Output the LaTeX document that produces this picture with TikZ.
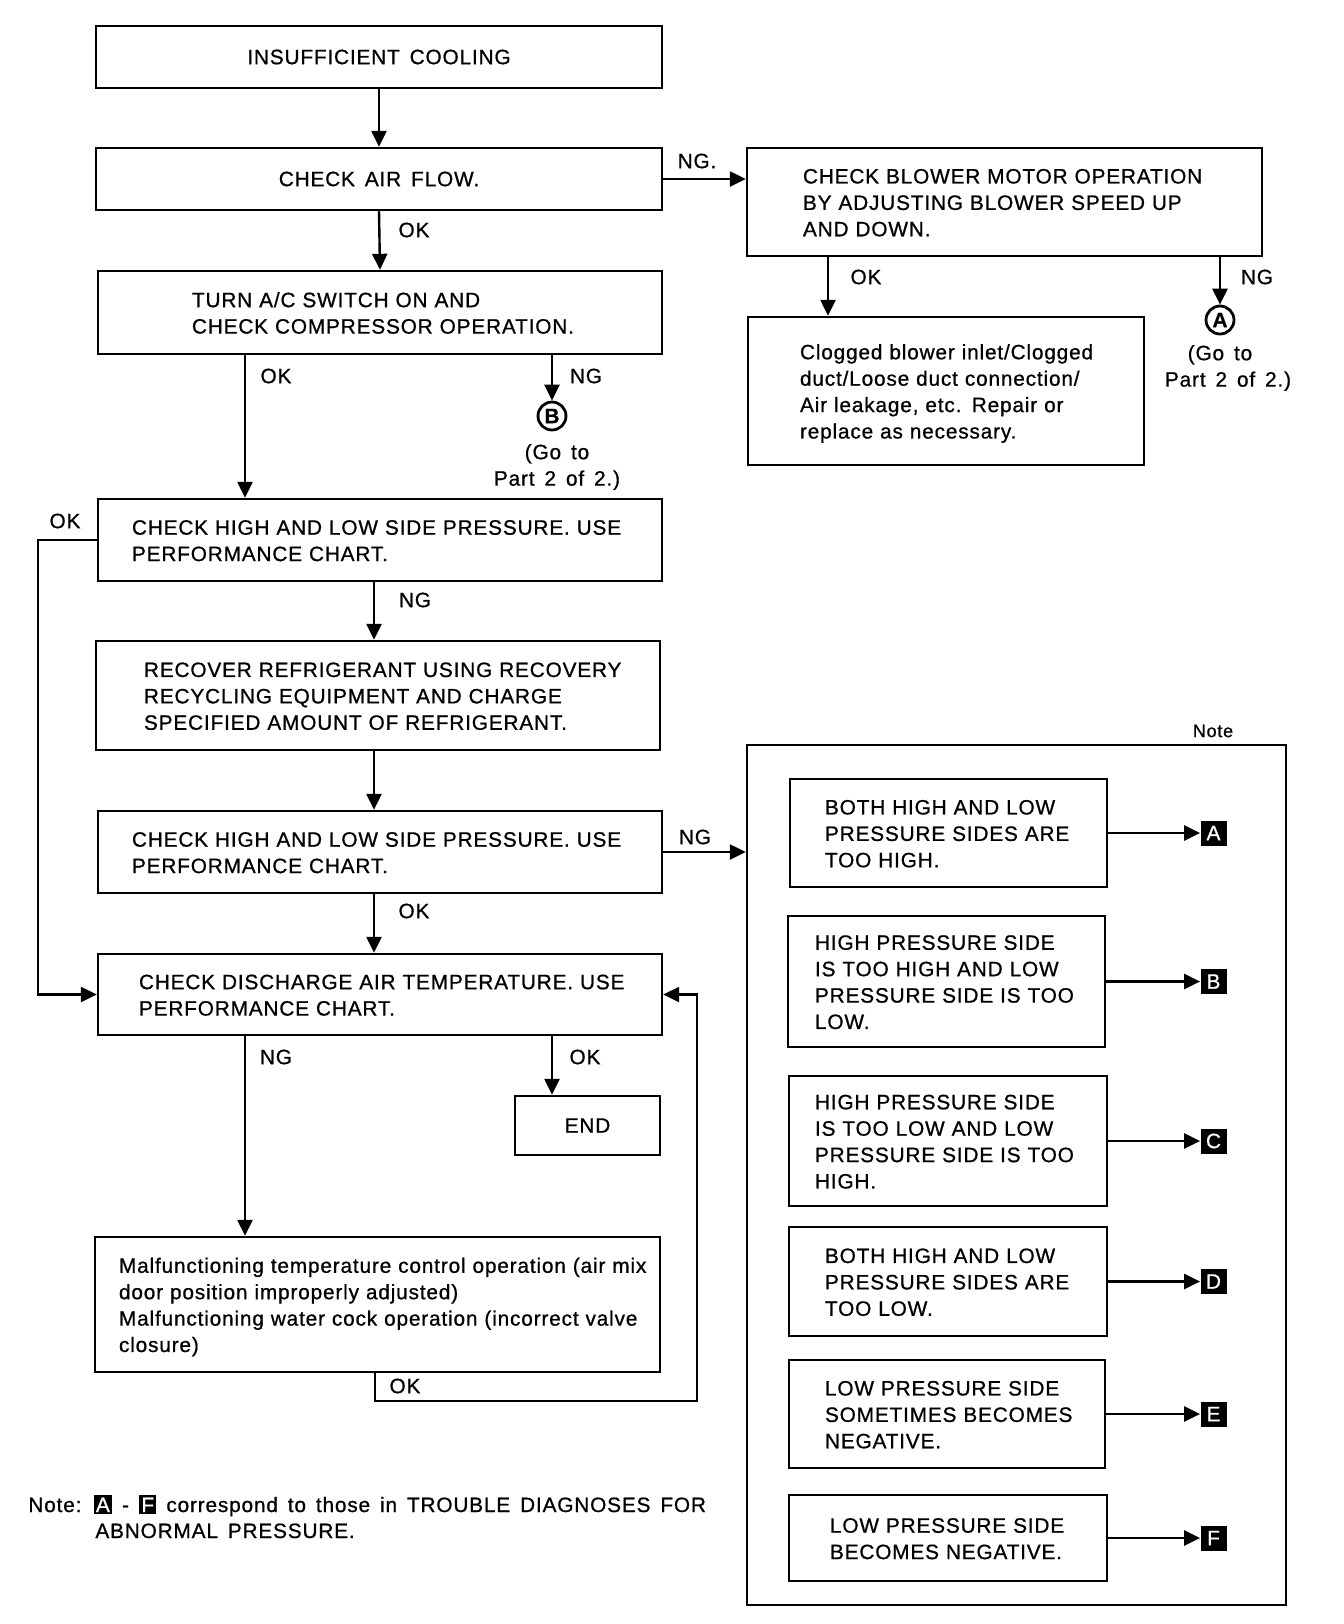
\documentclass[tikz,border=0pt]{standalone}
\usepackage{fontspec}
\setmainfont{Liberation Sans}[WordSpace=1.5, LetterSpace=4, FakeBold=0.8]
\usetikzlibrary{arrows.meta, positioning}
\newcommand\flowfont{\fontsize{10.4}{13.2}\selectfont}
% box text: lines are set as printed, never re-broken
\newcommand\flowlines[1]{\raisebox{-1.3pt}[\height][\depth]{\begin{tabular}{@{}l@{}}#1\end{tabular}}}
\newcommand\sqlet[1]{{\setlength\fboxsep{1.2pt}\colorbox{black}{\textcolor{white}{#1}}}}
\tikzset{
	flowbox/.style={draw, line width=1.2pt, align=left, font=\flowfont, inner ysep=0pt},
	flowarr/.style={-{Triangle[length=8pt, width=7.5pt]}, line width=1.2pt},
	flowlbl/.style={font=\flowfont, inner sep=0pt},
	gotoref/.style={circle, draw, line width=1.4pt, minimum size=14pt, inner sep=0pt, font=\flowfont\bfseries},
	letterbox/.style={fill=black, text=white, minimum width=13pt, minimum height=12.5pt, inner sep=0pt, font=\flowfont},
}

\begin{document}
\begin{tikzpicture}[x=0.5pt, y=-0.5pt]
	\useasboundingbox (0,0) rectangle (1344,1624);

	% main column
	\node[flowbox, align=center, minimum width=283pt, minimum height=31pt] (start) at (379,57) {INSUFFICIENT COOLING};
	\node[flowbox, align=center, minimum width=283pt, minimum height=31pt] (airflow) at (379,179) {CHECK AIR FLOW.};
	\node[flowbox, minimum width=282pt, minimum height=41.5pt, text width=188pt, inner xsep=47pt] (compr) at (380,312.5)
		{\flowlines{TURN A/C SWITCH ON AND\\CHECK COMPRESSOR OPERATION.}};
	\node[flowbox, minimum width=282pt, minimum height=41pt, text width=248pt, inner xsep=17pt] (press1) at (380,540)
		{\flowlines{CHECK HIGH AND LOW SIDE PRESSURE. USE\\PERFORMANCE CHART.}};
	\node[flowbox, minimum width=282pt, minimum height=54.5pt, text width=234pt, inner xsep=24pt] (recover) at (378,695.5)
		{\flowlines{RECOVER REFRIGERANT USING RECOVERY\\RECYCLING EQUIPMENT AND CHARGE\\SPECIFIED AMOUNT OF REFRIGERANT.}};
	\node[flowbox, minimum width=282pt, minimum height=41pt, text width=248pt, inner xsep=17pt] (press2) at (380,852)
		{\flowlines{CHECK HIGH AND LOW SIDE PRESSURE. USE\\PERFORMANCE CHART.}};
	\node[flowbox, minimum width=282pt, minimum height=40.5pt, text width=241pt, inner xsep=20.5pt] (disch) at (380,994.5)
		{\flowlines{CHECK DISCHARGE AIR TEMPERATURE. USE\\PERFORMANCE CHART.}};
	\node[flowbox, align=center, minimum width=72.5pt, minimum height=29.5pt] (endbox) at (587.5,1125.5) {END};
	\node[flowbox, minimum width=282.5pt, minimum height=67.5pt, text width=258.5pt, inner xsep=12pt] (malf) at (377.5,1304.5)
		{\flowlines{Malfunctioning temperature control operation (air mix\\door position improperly adjusted)\\Malfunctioning water cock operation (incorrect valve\\closure)}};

	% blower branch
	\node[flowbox, minimum width=257.5pt, minimum height=54pt, text width=201.5pt, inner xsep=28pt] (blower) at (1004.5,202)
		{\flowlines{CHECK BLOWER MOTOR OPERATION\\BY ADJUSTING BLOWER SPEED UP\\AND DOWN.}};
	\node[flowbox, minimum width=198pt, minimum height=74pt, text width=146pt, inner xsep=26pt] (clog) at (946,391)
		{\flowlines{Clogged blower inlet/Clogged\\duct/Loose duct connection/\\Air leakage, etc. Repair or\\replace as necessary.}};
	\node[gotoref] (goA) at (1220,320) {A};
	\node[flowlbl, align=center] (partA) at (1220,368) {(Go to\\\hspace*{8pt}Part 2 of 2.)};
	\node[gotoref] (goB) at (552,416) {B};
	\node[flowlbl, align=center] (partB) at (557,467) {(Go to\\Part 2 of 2.)};

	% note panel
	\node[draw, line width=1.2pt, minimum width=269.5pt, minimum height=430pt] (notebox) at (1016.5,1175) {};
	\node[flowlbl, font=\fontsize{9}{11}\selectfont] (notelbl) at (1213,731) {Note};
	\node[flowbox, minimum width=158.5pt, minimum height=54pt, text width=123.5pt, inner xsep=17.5pt] (bxA) at (948.5,833)
		{\flowlines{BOTH HIGH AND LOW\\PRESSURE SIDES ARE\\TOO HIGH.}};
	\node[flowbox, minimum width=158.5pt, minimum height=65.5pt, text width=131.5pt, inner xsep=13.5pt] (bxB) at (946.5,981.5)
		{\flowlines{HIGH PRESSURE SIDE\\IS TOO HIGH AND LOW\\PRESSURE SIDE IS TOO\\LOW.}};
	\node[flowbox, minimum width=159pt, minimum height=65pt, text width=133pt, inner xsep=13pt] (bxC) at (948,1141)
		{\flowlines{HIGH PRESSURE SIDE\\IS TOO LOW AND LOW\\PRESSURE SIDE IS TOO\\HIGH.}};
	\node[flowbox, minimum width=159pt, minimum height=54.5pt, text width=123pt, inner xsep=18pt] (bxD) at (948,1281.5)
		{\flowlines{BOTH HIGH AND LOW\\PRESSURE SIDES ARE\\TOO LOW.}};
	\node[flowbox, minimum width=158pt, minimum height=54pt, text width=122pt, inner xsep=18pt] (bxE) at (947,1414)
		{\flowlines{LOW PRESSURE SIDE\\SOMETIMES BECOMES\\NEGATIVE.}};
	\node[flowbox, minimum width=159pt, minimum height=43pt, text width=118pt, inner xsep=20.5pt] (bxF) at (948,1538)
		{\flowlines{LOW PRESSURE SIDE\\BECOMES NEGATIVE.}};
	\foreach \nm in {A,B,C,D,E,F} {
		\node[letterbox] (sq\nm) at (1213.5,0 |- bx\nm.east) {\nm};
		\draw[flowarr] (bx\nm.east) -- (sq\nm.west);
	}

	% branch labels
	\node[flowlbl] (okAir) at (414,230) {OK};
	\node[flowlbl] (ngAir) at (697,161) {NG.};
	\node[flowlbl] (okBlow) at (866,277) {OK};
	\node[flowlbl] (ngBlow) at (1257,277) {NG};
	\node[flowlbl] (okComp) at (276,376) {OK};
	\node[flowlbl] (ngComp) at (586,376) {NG};
	\node[flowlbl] (okP1) at (65,521) {OK};
	\node[flowlbl] (ngP1) at (415,600) {NG};
	\node[flowlbl] (ngP2) at (695,837) {NG};
	\node[flowlbl] (okP2) at (414,911) {OK};
	\node[flowlbl] (ngDis) at (276,1057) {NG};
	\node[flowlbl] (okDis) at (585,1057) {OK};
	\node[flowlbl] (okMal) at (405,1386) {OK};

	% connectors
	\draw[flowarr] (start.south) -- (airflow.north);
	\draw[flowarr] (airflow.east) -- (airflow.east -| blower.west);
	\draw[flowarr] (airflow.south) -- (compr.north);
	\draw[flowarr] (828,0 |- blower.south) -- (828,0 |- clog.north);
	\draw[flowarr] (1220,0 |- blower.south) -- (goA.north);
	\draw[flowarr] (245,0 |- compr.south) -- (245,0 |- press1.north);
	\draw[flowarr] (goB |- compr.south) -- (goB.north);
	\draw[flowarr] (press1.west) -- (38,0 |- press1.west) |- (disch.west);
	\draw[flowarr] (374,0 |- press1.south) -- (374,0 |- recover.north);
	\draw[flowarr] (374,0 |- recover.south) -- (374,0 |- press2.north);
	\draw[flowarr] (press2.east) -- (press2.east -| notebox.west);
	\draw[flowarr] (374,0 |- press2.south) -- (374,0 |- disch.north);
	\draw[flowarr] (245,0 |- disch.south) -- (245,0 |- malf.north);
	\draw[flowarr] (552,0 |- disch.south) -- (552,0 |- endbox.north);
	\coordinate (retCorner) at (697,1401);
	\draw[flowarr] (375,0 |- malf.south) |- (retCorner) |- (disch.east);

	% footnote
	\node[flowlbl, anchor=base west] (note1) at (28,1512)
		{Note: \sqlet{A} - \sqlet{F} correspond to those in TROUBLE DIAGNOSES FOR};
	\node[flowlbl, anchor=base west] (note2) at (95,1538) {ABNORMAL PRESSURE.};
\end{tikzpicture}
\end{document}
